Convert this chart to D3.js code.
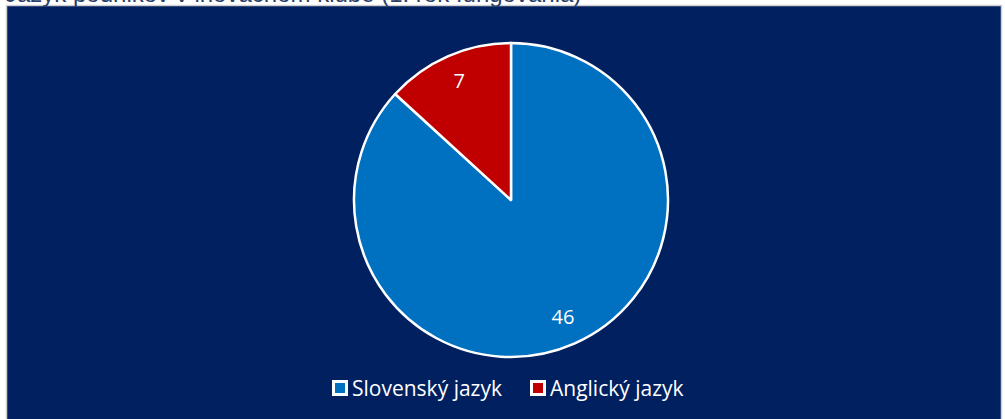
<!DOCTYPE html>
<html><head><meta charset="utf-8">
<script src="https://cdn.jsdelivr.net/npm/d3@7"></script>
<style>html,body{margin:0;padding:0;background:#fff;overflow:hidden}</style>
</head><body>
<svg id="c" width="1005" height="419"></svg>
<script>
const categories = ["Slovenský jazyk", "Anglický jazyk"];
const values = [46, 7];
const colors = ["#0070C0", "#C00000"];
const title = "Jazyk podnikov v inovačnom klube (1. rok fungovania)";

const svg = d3.select("#c");

// frame
svg.append("rect").attr("x", 6.5).attr("y", 5.5).attr("width", 995).attr("height", 420)
  .attr("fill", "#002060").attr("stroke", "#d0d0d0").attr("stroke-width", 1.5);

// title (clipped by the top edge, as in the reference)
svg.append("text").attr("x", 5).attr("y", 2).attr("font-family", "Liberation Sans, Arial, sans-serif")
  .attr("font-size", 24).attr("fill", "#2a3f6a").text(title);

const cx = 511, cy = 200, r = 157;
const g = svg.append("g").attr("transform", `translate(${cx},${cy})`);
const data = categories.map((c, i) => ({c, v: values[i], color: colors[i]}));
const pie = d3.pie().value(d => d.v).sort(null);
const arc = d3.arc().innerRadius(0).outerRadius(r);
const arcs = pie(data);
g.selectAll("path").data(arcs).join("path")
  .attr("d", arc).attr("fill", d => d.data.color)
  .attr("stroke", "#fff").attr("stroke-width", 2.5).attr("stroke-linejoin", "round");

const labelArc = d3.arc().innerRadius(r * 0.82).outerRadius(r * 0.82);
g.selectAll("text.lbl").data(arcs).join("text").attr("class", "lbl")
  .attr("transform", d => {
    const c = labelArc.centroid(d);
    return `translate(${c[0]},${c[1]})`;
  })
  .attr("text-anchor", "middle").attr("dy", "0.3em")
  .attr("font-family", "Open Sans, sans-serif").attr("font-size", 20)
  .attr("fill", "#fff").text(d => d.data.v);

// legend
const legX = [332, 530];
const lg = svg.append("g");
data.forEach((d, i) => {
  const x = legX[i];
  lg.append("rect").attr("x", x + 1.5).attr("y", 381.5).attr("width", 13).attr("height", 13)
    .attr("fill", d.color).attr("stroke", "#fff").attr("stroke-width", 3);
  lg.append("text").attr("x", x + 20).attr("y", 388).attr("dy", "0.36em")
    .attr("font-family", "Open Sans, sans-serif").attr("font-size", 21)
    .attr("fill", "#fff").text(d.c);
});
</script>
</body></html>
